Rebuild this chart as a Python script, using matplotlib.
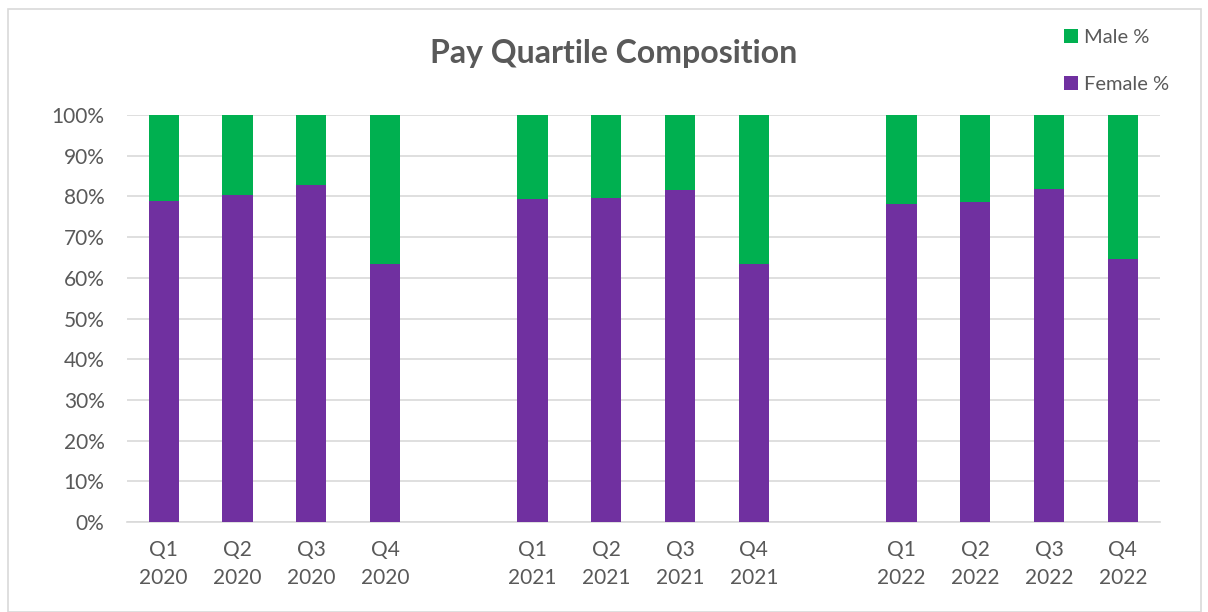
import matplotlib
matplotlib.use("Agg")
import matplotlib.pyplot as plt
from matplotlib.patches import Rectangle
from matplotlib.ticker import PercentFormatter

# blank slots between the years are kept as empty categories
categories = ["Q1\n2020", "Q2\n2020", "Q3\n2020", "Q4\n2020", "",
              "Q1\n2021", "Q2\n2021", "Q3\n2021", "Q4\n2021", "",
              "Q1\n2022", "Q2\n2022", "Q3\n2022", "Q4\n2022"]
female_pct = [78.9, 80.4, 82.8, 63.3, 0,
              79.4, 79.5, 81.5, 63.3, 0,
              78.2, 78.7, 81.9, 64.7]
male_pct = [100 - f if c else 0 for f, c in zip(female_pct, categories)]

FEMALE_COLOR = "#7030A0"
MALE_COLOR = "#00B050"
TEXT_COLOR = "#595959"

plt.rcParams["font.family"] = ["Lato", "DejaVu Sans"]

fig = plt.figure(figsize=(12.08, 6.12), dpi=100)
ax = fig.add_axes([0.105, 0.147, 0.855, 0.665])

x = list(range(len(categories)))
female = ax.bar(x, female_pct, width=0.41, color=FEMALE_COLOR, zorder=3)
male = ax.bar(x, male_pct, width=0.41, bottom=female_pct, color=MALE_COLOR, zorder=3)

ax.set_xlim(-0.5, len(categories) - 0.5)
ax.set_ylim(0, 100)
ax.set_yticks(range(0, 101, 10))
ax.yaxis.set_major_formatter(PercentFormatter(decimals=0))
ax.set_xticks(x)
ax.set_xticklabels(categories, linespacing=1.5)
ax.tick_params(axis="both", length=0, labelsize=15, colors=TEXT_COLOR)
ax.tick_params(axis="x", pad=13)
ax.tick_params(axis="y", pad=16)

ax.grid(axis="y", color="#D9D9D9", linewidth=1.2, zorder=0)
for side in ["top", "right", "left"]:
    ax.spines[side].set_visible(False)
ax.spines["bottom"].set_color("#D9D9D9")
ax.spines["bottom"].set_linewidth(1.2)

fig.text(0.508, 0.913, "Pay Quartile Composition", ha="center", va="center",
         fontsize=23, fontweight="bold", color=TEXT_COLOR)

leg = fig.legend([male, female], ["Male %", "Female %"], loc="upper left",
                 bbox_to_anchor=(0.866, 0.983), frameon=False, fontsize=14.5,
                 handlelength=0.7, handleheight=0.7, handletextpad=0.3,
                 labelspacing=1.5)
for t in leg.get_texts():
    t.set_color(TEXT_COLOR)

fig.patches.append(Rectangle((0.007, 0.0), 0.987, 0.985, transform=fig.transFigure,
                             fill=False, edgecolor="#D9D9D9", linewidth=1.2))

fig.savefig("out.png")
